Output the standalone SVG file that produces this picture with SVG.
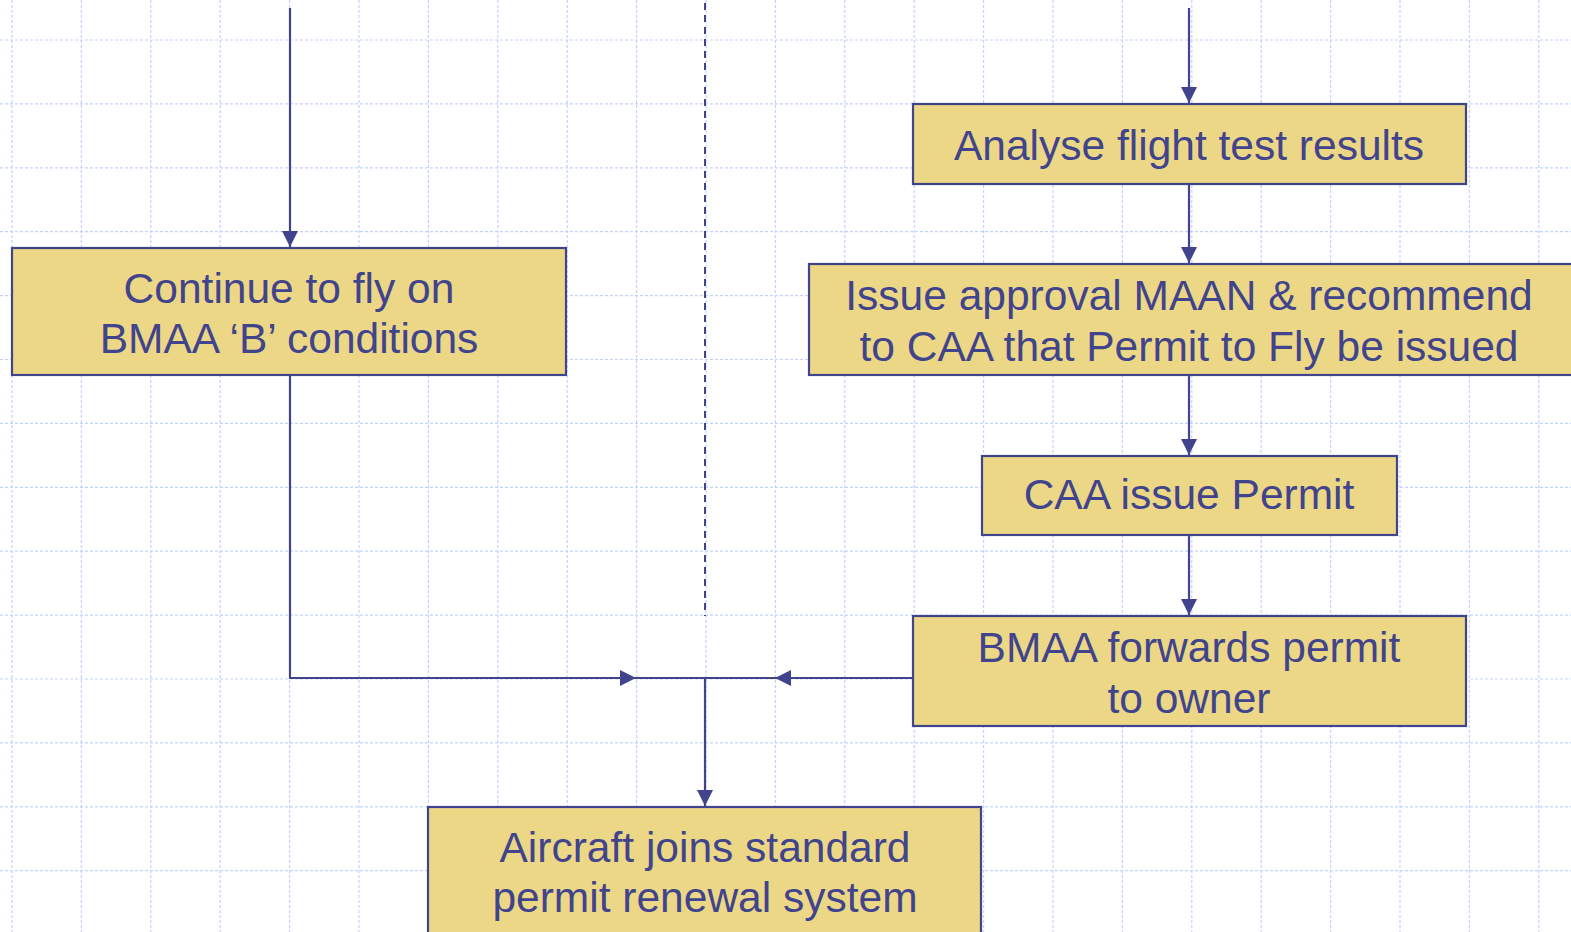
<svg xmlns="http://www.w3.org/2000/svg" width="1571" height="932" viewBox="0 0 1571 932">
<defs>
<style>
.grid{stroke:#c5d3fa;stroke-width:1.2;stroke-dasharray:3 2;fill:none}
.box{fill:#ebd785;stroke:#41448c;stroke-width:2.2}
.lbl{font-family:"Liberation Sans",Arial,sans-serif;font-size:42.5px;fill:#41448c;text-anchor:middle}
.conn{stroke:#41448c;stroke-width:2.2;fill:none}
.dash{stroke:#41448c;stroke-width:2;stroke-dasharray:7 5;fill:none}
</style>
<marker id="arr" markerUnits="userSpaceOnUse" markerWidth="17" markerHeight="18" viewBox="0 0 17 18" refX="16" refY="9" orient="auto">
<path d="M0,1 L16,9 L0,17 Z" fill="#41448c"/>
</marker>
</defs>
<rect width="1571" height="932" fill="#ffffff"/>
<g id="grid">
<path class="grid" d="M12,0V932M81.4,0V932M150.8,0V932M220.2,0V932M289.6,0V932M359,0V932M428.4,0V932M497.8,0V932M567.2,0V932M636.6,0V932M706,0V932M775.4,0V932M844.8,0V932M914.2,0V932M983.6,0V932M1053,0V932M1122.4,0V932M1191.8,0V932M1261.2,0V932M1330.6,0V932M1400,0V932M1469.4,0V932M1538.8,0V932"/>
<path class="grid" d="M0,40H1571M0,103.9H1571M0,167.8H1571M0,231.7H1571M0,295.6H1571M0,359.5H1571M0,423.4H1571M0,487.3H1571M0,551.2H1571M0,615.1H1571M0,679H1571M0,742.9H1571M0,806.8H1571M0,870.7H1571"/>
</g>
<g id="connectors">
<path class="dash" d="M705,3V616"/>
<path class="conn" d="M290,8V247" marker-end="url(#arr)"/>
<path class="conn" d="M1189,8V103" marker-end="url(#arr)"/>
<path class="conn" d="M1189,184V263" marker-end="url(#arr)"/>
<path class="conn" d="M1189,375V455" marker-end="url(#arr)"/>
<path class="conn" d="M1189,535V615" marker-end="url(#arr)"/>
<path class="conn" d="M290,375V678H636" marker-end="url(#arr)"/>
<path class="conn" d="M913,678H775" marker-end="url(#arr)"/>
<path class="conn" d="M630,678H780"/>
<path class="conn" d="M705,678V806" marker-end="url(#arr)"/>
</g>
<g id="n-analyse">
<rect class="box" x="913" y="104" width="553" height="80"/>
<text class="lbl" x="1189" y="160">Analyse flight test results</text>
</g>
<g id="n-continue">
<rect class="box" x="12" y="248" width="554" height="127"/>
<text class="lbl" x="289" y="303">Continue to fly on</text>
<text class="lbl" x="289" y="353">BMAA ‘B’ conditions</text>
</g>
<g id="n-issue">
<rect class="box" x="809" y="264" width="780" height="111"/>
<text class="lbl" x="1189" y="310">Issue approval MAAN &amp; recommend</text>
<text class="lbl" x="1189" y="361">to CAA that Permit to Fly be issued</text>
</g>
<g id="n-caa">
<rect class="box" x="982" y="456" width="415" height="79"/>
<text class="lbl" x="1189" y="509">CAA issue Permit</text>
</g>
<g id="n-forwards">
<rect class="box" x="913" y="616" width="553" height="110"/>
<text class="lbl" x="1189" y="662">BMAA forwards permit</text>
<text class="lbl" x="1189" y="713">to owner</text>
</g>
<g id="n-joins">
<rect class="box" x="428" y="807" width="553" height="140"/>
<text class="lbl" x="705" y="862">Aircraft joins standard</text>
<text class="lbl" x="705" y="912">permit renewal system</text>
</g>
</svg>
